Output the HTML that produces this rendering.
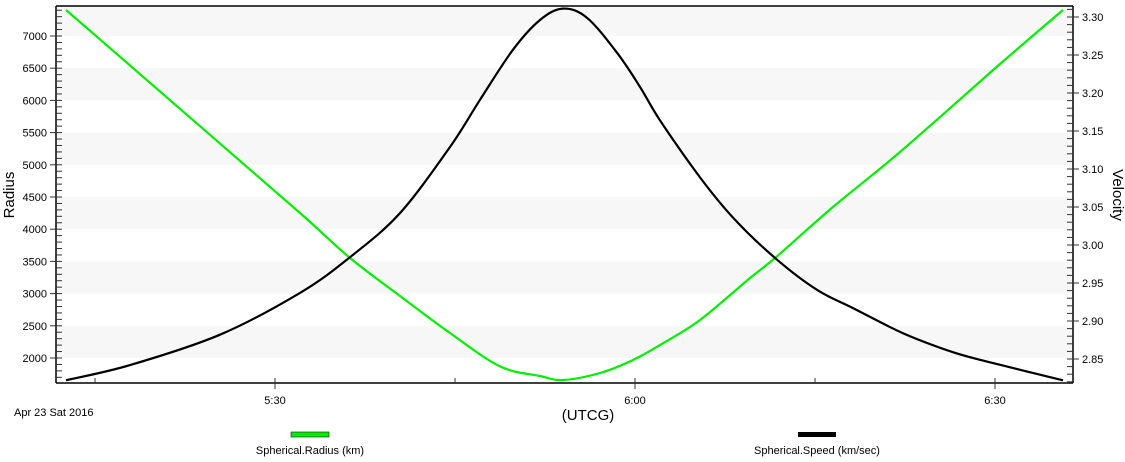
<!DOCTYPE html>
<html><head><meta charset="utf-8"><style>
body{margin:0;background:#fff;width:1125px;height:457px;overflow:hidden}
svg{font-family:"Liberation Sans",Arial,sans-serif}
</style></head><body>
<svg id="c" width="1125" height="457"></svg>
<script>
const radiusTimes=[12.58,23.75,32.08,36.25,40.42,44.58,48.75,52.08,54.0,57.08,59.83,62.08,65.42,69.58,71.67,76.5,82.08,90.42,95.67];
const radiusValues=[7404,5600,4252,3553,2963,2388,1870,1720,1658,1767,1969,2202,2590,3242,3553,4345,5199,6565,7404];
const speedTimes=[12.58,17.92,25.42,32.08,36.25,40.42,44.58,47.08,49.83,52.08,54.0,56.0,58.5,60.42,62.08,65.42,68.17,71.67,75.17,78.17,82.33,86.5,89.75,95.67];
const speedValues=[2.822,2.842,2.882,2.937,2.984,3.042,3.129,3.191,3.257,3.296,3.311,3.299,3.253,3.208,3.164,3.089,3.036,2.983,2.941,2.917,2.884,2.859,2.845,2.822];
const radiusTicks=[2000,2500,3000,3500,4000,4500,5000,5500,6000,6500,7000];
const speedTicks=[2.85,2.90,2.95,3.00,3.05,3.10,3.15,3.20,3.25,3.30];
const timeTicks=[30,60,90];
const timeLabels=["5:30","6:00","6:30"];

const L=56,R=1073,T=6,B=383;
const xs=t=>275+(t-30)*12;
const yl=r=>36+(7000-r)*0.0644;
const yr=v=>17+(3.30-v)*760;
const NS="http://www.w3.org/2000/svg";
const svg=document.getElementById('c');
function mk(tag,attrs,parent){const e=document.createElementNS(NS,tag);for(const k in attrs)e.setAttribute(k,attrs[k]);(parent||svg).appendChild(e);return e;}

const bands=mk('g',{});


mk('rect',{x:L,y:T,width:R-L,height:yl(7000)-T,fill:'#f7f7f7'},bands);
for(let r=2000;r<7000;r+=1000){mk('rect',{x:L,y:yl(r+500),width:R-L,height:yl(r)-yl(r+500),fill:'#f7f7f7'},bands);}

const frame=mk('g',{stroke:'#000','stroke-width':1.5,fill:'none'});


mk('line',{x1:L,y1:T,x2:R,y2:T},frame);
mk('line',{x1:L,y1:T,x2:L,y2:B},frame);
mk('line',{x1:R,y1:T,x2:R,y2:B},frame);
mk('line',{x1:L,y1:B,x2:R,y2:B},frame);

const la=mk('g',{});


for(let r=1700;r<=7400;r+=100){const y=yl(r);const maj=r%500===0;mk('line',{x1:L,x2:L+6,y1:y,y2:y,stroke:'#333','stroke-width':1},la);if(maj)mk('line',{x1:L-6,x2:L,y1:y,y2:y,stroke:'#333'},la);}
radiusTicks.forEach(r=>{const t=mk('text',{x:L-9,y:yl(r)+4,'text-anchor':'end','font-size':11,fill:'#000'},la);t.textContent=r;});
const ra=mk('g',{});


for(let i=0;i<=55;i++){const v=2.82+i*0.01;const y=yr(v);if(y<T||y>B)continue;mk('line',{x1:R-6,x2:R,y1:y,y2:y,stroke:'#333'},ra);}
speedTicks.forEach(v=>{const y=yr(v);mk('line',{x1:R,x2:R+6,y1:y,y2:y,stroke:'#333'},ra);const t=mk('text',{x:R+9,y:y+4,'font-size':11,fill:'#000'},ra);t.textContent=v.toFixed(2);});
const xa=mk('g',{});


for(let t=15;t<=95;t+=15){const x=xs(t);const maj=t%30===0;mk('line',{x1:x,x2:x,y1:B,y2:B-5,stroke:'#333'},xa);if(maj)mk('line',{x1:x,x2:x,y1:B,y2:B+6,stroke:'#333'},xa);}
timeTicks.forEach((t,i)=>{const e=mk('text',{x:xs(t),y:B+21,'text-anchor':'middle','font-size':11},xa);e.textContent=timeLabels[i];});

function path(ts,vs,yf){
  const p=ts.map((t,i)=>[xs(t),yf(vs[i])]);
  let d='M'+p[0][0].toFixed(1)+','+p[0][1].toFixed(1);
  for(let i=0;i<p.length-1;i++){
    const p0=p[i-1]||p[i],p1=p[i],p2=p[i+1],p3=p[i+2]||p2;
    const c1=[p1[0]+(p2[0]-p0[0])/6,p1[1]+(p2[1]-p0[1])/6];
    const c2=[p2[0]-(p3[0]-p1[0])/6,p2[1]-(p3[1]-p1[1])/6];
    d+='C'+c1.map(v=>v.toFixed(1)).join(',')+' '+c2.map(v=>v.toFixed(1)).join(',')+' '+p2.map(v=>v.toFixed(1)).join(',');
  }
  return d;
}
const g=mk('path',{d:path(radiusTimes,radiusValues,yl),stroke:'#00ee00','stroke-width':2.2,fill:'none'});


const k=mk('path',{d:path(speedTimes,speedValues,yr),stroke:'#000','stroke-width':2.2,fill:'none','stroke-linejoin':'round'});



let e;
e=mk('text',{x:0,y:0,transform:'translate(14,195) rotate(-90)','text-anchor':'middle','font-size':15});e.textContent='Radius';


e=mk('text',{x:0,y:0,transform:'translate(1113,195) rotate(90)','text-anchor':'middle','font-size':15});e.textContent='Velocity';


e=mk('text',{x:588,y:420,'text-anchor':'middle','font-size':15});e.textContent='(UTCG)';


e=mk('text',{x:14,y:416,'font-size':11});e.textContent='Apr 23 Sat 2016';



const lg1=mk('g',{});


mk('rect',{x:291,y:432,width:38,height:5,fill:'#00ee00',stroke:'#222','stroke-width':0.6},lg1);
e=mk('text',{x:310,y:454,'text-anchor':'middle','font-size':11},lg1);e.textContent='Spherical.Radius (km)';
const lg2=mk('g',{});


mk('rect',{x:798,y:432,width:38,height:5,fill:'#000'},lg2);
e=mk('text',{x:817,y:454,'text-anchor':'middle','font-size':11},lg2);e.textContent='Spherical.Speed (km/sec)';
</script>
</body></html>
